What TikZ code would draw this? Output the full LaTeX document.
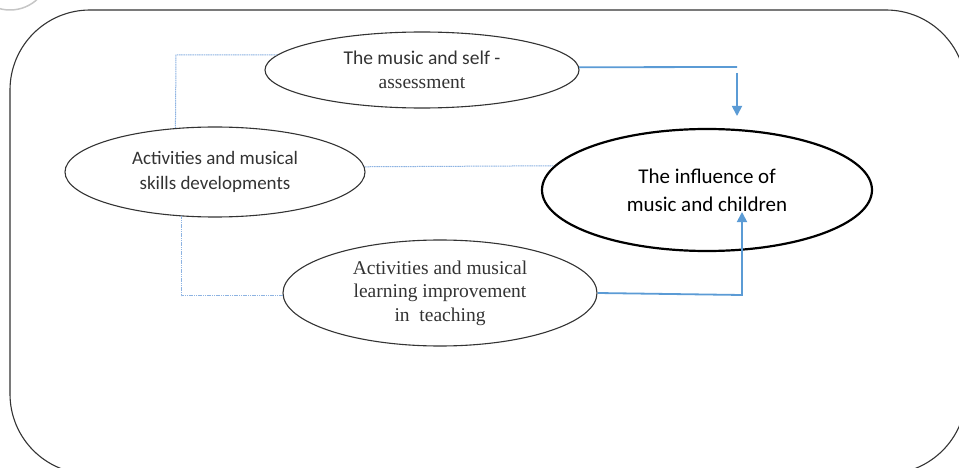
\documentclass[tikz,border=0pt]{standalone}
\usepackage{fontspec}
\setmainfont{Liberation Serif}
\newfontfamily\calfont{Carlito}
\usetikzlibrary{shapes.geometric,arrows.meta}
\definecolor{linkblue}{HTML}{5B9BD5}
\definecolor{dotblue}{HTML}{8DB3E2}
\definecolor{inkgray}{HTML}{333333}
\tikzset{
  topic/.style={ellipse,draw=inkgray,line width=1.1pt,inner sep=0pt,
    align=center,text=inkgray},
  hub/.style={ellipse,draw=black,line width=2.2pt,inner sep=0pt,
    align=center,text=black},
  dotlink/.style={draw=dotblue,line width=1pt,dash pattern=on 1.2pt off 0.6pt},
  solidlink/.style={draw=linkblue,line width=1.8pt},
  arrowlink/.style={solidlink,-{Triangle[width=10pt,length=10pt]}},
}
\begin{document}
\begin{tikzpicture}[x=1pt,y=-1pt]
\useasboundingbox (0,0) rectangle (959,468);
\begin{scope}
\clip (0,0) rectangle (959,468);
% frame and corner mark
\draw[gray!45,line width=1.5pt] (10,-30) circle (40);
\draw[inkgray,line width=1.1pt,rounded corners=80pt] (10,10) rectangle (966,474);
\end{scope}

% ellipses
\node[topic,minimum width=314pt,minimum height=76pt,
      font=\fontsize{19.5}{24}\selectfont] (self) at (422,70)
  {{\calfont The music and self -}\\assessment};
\node[topic,minimum width=300pt,minimum height=90pt,
      font=\calfont\fontsize{19}{25}\selectfont] (skills) at (215,172)
  {Activities and musical\\skills developments};
\node[topic,minimum width=314pt,minimum height=106pt,
      font=\fontsize{19.5}{23.5}\selectfont] (learn) at (440,293)
  {Activities and musical\\learning improvement\\in\ \ teaching};
\node[hub,minimum width=330pt,minimum height=122pt,
      font=\calfont\fontsize{21}{28}\selectfont] (infl) at (707,190)
  {The influence of\\music and children};

% free ends of the blue connectors
\coordinate (selfbend) at (737,67);
\coordinate (selfdrop) at (737,73);
\coordinate (selftip) at (737,116);
\coordinate (learnbend) at (742,295);
\coordinate (learntip) at (742,212);
\coordinate (topleft) at (176,55);

% dotted links
\draw[dotlink] (self.174) -- (topleft) -- (skills.132);
\draw[dotlink] (skills.2) -- (infl.171.5);
\draw[dotlink] (skills.233) |- (learn.181.5);

% solid arrows into the hub
\draw[solidlink] (self.1.5) -- (selfbend);
\draw[arrowlink] (selfdrop) -- (selftip);
\draw[arrowlink] (learn.east) -- (learnbend) -- (learntip);
\end{tikzpicture}
\end{document}
